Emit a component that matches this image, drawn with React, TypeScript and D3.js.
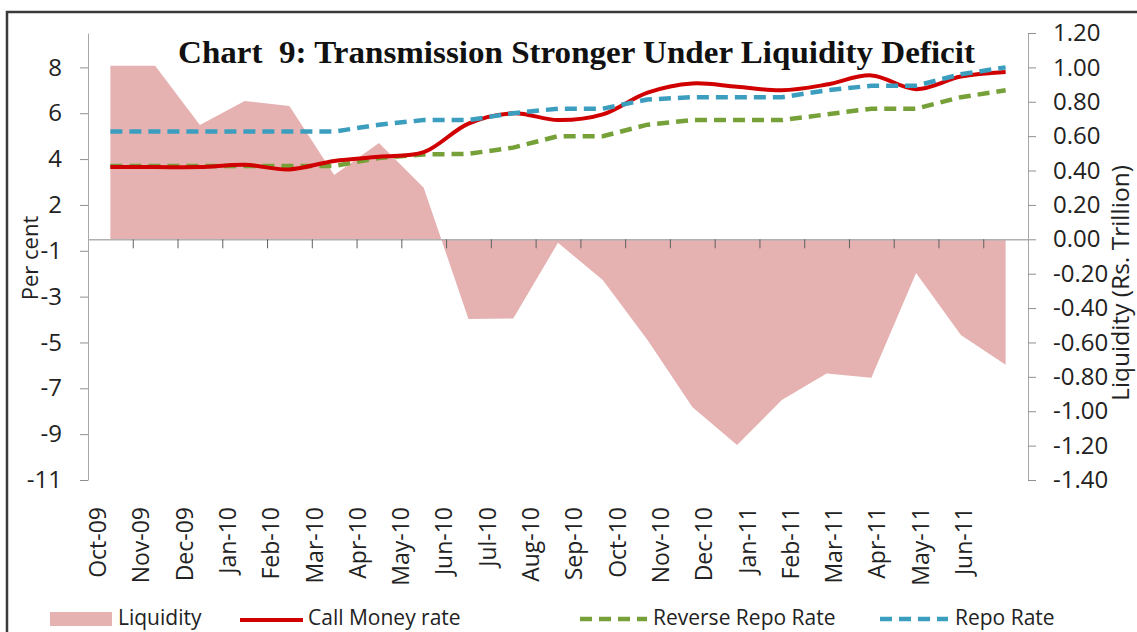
import { useEffect, useRef } from "react";
import * as d3 from "d3";

const months = [
    "Oct-09", "Nov-09", "Dec-09", "Jan-10", "Feb-10", "Mar-10", "Apr-10",
    "May-10", "Jun-10", "Jul-10", "Aug-10", "Sep-10", "Oct-10", "Nov-10",
    "Dec-10", "Jan-11", "Feb-11", "Mar-11", "Apr-11", "May-11", "Jun-11",
];

// Rs. Trillion (right axis)
const liquidity = [
    1.01, 1.01, 0.665, 0.805, 0.775, 0.374, 0.56, 0.3, -0.464, -0.46, -0.02,
    -0.237, -0.585, -0.975, -1.197, -0.935, -0.78, -0.805, -0.196, -0.557, -0.73,
];

// Per cent (left axis)
const callMoney = [
    3.15, 3.15, 3.15, 3.25, 3.05, 3.42, 3.6, 3.8, 5.05, 5.5, 5.2, 5.45, 6.4,
    6.8, 6.65, 6.5, 6.75, 7.15, 6.55, 7.1, 7.3,
];
const reverseRepo = [
    3.2, 3.2, 3.2, 3.2, 3.2, 3.2, 3.55, 3.7, 3.73, 4.0, 4.5, 4.5, 5.0, 5.2,
    5.2, 5.2, 5.45, 5.7, 5.7, 6.2, 6.5,
];
const repo = [
    4.7, 4.7, 4.7, 4.7, 4.7, 4.7, 5.0, 5.2, 5.2, 5.5, 5.7, 5.7, 6.1, 6.2, 6.2,
    6.2, 6.5, 6.7, 6.7, 7.2, 7.5,
];

const leftTicks = d3.range(-10.5, 9, 2);
const rightTicks = d3.range(-7, 7).map((i) => i * 0.2);

const FONT = "'Open Sans', sans-serif";

const App = () => {
    const chartRef = useRef<SVGSVGElement | null>(null);

    useEffect(() => {
        if (!chartRef.current) return;
        const svg = d3.select(chartRef.current);
        svg.selectAll("*").remove();

        const width = 1137;
        const height = 632;
        const plot = { left: 88, right: 1028, top: 33, bottom: 480 };

        svg.attr("width", width).attr("height", height);
        svg.append("rect").attr("width", width).attr("height", height).attr("fill", "#fff");

        // frame
        svg.append("path")
            .attr("d", `M7,${height} L7,12 L${width},12`)
            .attr("fill", "none")
            .attr("stroke", "#3a3a3a")
            .attr("stroke-width", 2.5);

        const x = d3.scaleBand().domain(months).range([plot.left, plot.right]).padding(0);
        const cx = (m: string) => x(m)! + x.bandwidth() / 2;
        const xEdge = d3.scaleLinear().domain([0, months.length]).range([plot.left, plot.right]);
        const xLabel = d3.scalePoint().domain(months).range([98, 964]);

        const yL = d3.scaleLinear().domain([-10.5, 9]).range([plot.bottom, plot.top]);
        const yR = d3.scaleLinear().domain([-1.4, 1.2]).range([plot.bottom, plot.top]);

        // Liquidity area
        const area = d3
            .area<number>()
            .x((_, i) => cx(months[i]))
            .y0(yR(0))
            .y1((d) => yR(d));
        svg.append("path").datum(liquidity).attr("d", area).attr("fill", "#E5B1B1");

        // left axis
        const gL = svg
            .append("g")
            .attr("transform", `translate(${plot.left},0)`)
            .call(
                d3.axisLeft(yL)
                    .tickValues(leftTicks)
                    .tickFormat((v) => String(Math.sign(+v) * Math.round(Math.abs(+v))))
                    .tickSize(8)
                    .tickSizeOuter(0)
                    .tickPadding(18)
            );
        gL.select(".domain").attr("stroke", "#a8a8a8");
        gL.selectAll(".tick line").attr("stroke", "#909090");
        gL.selectAll("text").attr("font-family", FONT).attr("font-size", 24).attr("fill", "#222");

        // right axis
        const gR = svg
            .append("g")
            .attr("transform", `translate(${plot.right},0)`)
            .call(
                d3.axisRight(yR)
                    .tickValues(rightTicks)
                    .tickFormat((v) => (Math.abs(+v) < 1e-9 ? 0 : +v).toFixed(2))
                    .tickSize(8)
                    .tickSizeOuter(0)
                    .tickPadding(17)
            );
        gR.select(".domain").attr("stroke", "#a8a8a8");
        gR.selectAll(".tick line").attr("stroke", "#909090");
        gR.selectAll("text").attr("font-family", FONT).attr("font-size", 24).attr("fill", "#222");

        // category axis on the zero line
        const gX = svg
            .append("g")
            .attr("transform", `translate(0,${yR(0)})`)
            .call(
                d3.axisBottom(xEdge)
                    .tickValues(d3.range(1, months.length))
                    .tickFormat(() => "")
                    .tickSize(9)
                    .tickSizeOuter(0)
            );
        gX.select(".domain").attr("stroke", "#b0b0b0").attr("stroke-width", 1.5);
        gX.selectAll(".tick line").attr("stroke", "#606060");

        svg.append("g")
            .selectAll("text")
            .data(months)
            .enter()
            .append("text")
            .attr("transform", (d) => `translate(${xLabel(d)! + 8},507) rotate(-90)`)
            .attr("text-anchor", "end")
            .attr("font-family", FONT)
            .attr("font-size", 23)
            .attr("fill", "#222")
            .text((d) => d);

        // rate lines
        const lineL = (curve: d3.CurveFactory) =>
            d3
                .line<number>()
                .x((_, i) => cx(months[i]))
                .y((d) => yL(d))
                .curve(curve);

        svg.append("path")
            .datum(reverseRepo)
            .attr("d", lineL(d3.curveLinear))
            .attr("fill", "none")
            .attr("stroke", "#76A038")
            .attr("stroke-width", 4.5)
            .attr("stroke-dasharray", "12,7");

        svg.append("path")
            .datum(callMoney)
            .attr("d", lineL(d3.curveCatmullRom.alpha(0.5)))
            .attr("fill", "none")
            .attr("stroke", "#D00000")
            .attr("stroke-width", 4);

        svg.append("path")
            .datum(repo)
            .attr("d", lineL(d3.curveLinear))
            .attr("fill", "none")
            .attr("stroke", "#3B9EBF")
            .attr("stroke-width", 4.5)
            .attr("stroke-dasharray", "12,7");

        // title
        svg.append("text")
            .attr("x", 178)
            .attr("y", 63)
            .attr("font-family", "'Liberation Serif', serif")
            .attr("font-weight", "bold")
            .attr("font-size", 31)
            .attr("fill", "#111")
            .attr("textLength", 797)
            .attr("lengthAdjust", "spacingAndGlyphs")
            .style("white-space", "pre")
            .text("Chart  9: Transmission Stronger Under Liquidity Deficit");

        // axis titles
        svg.append("text")
            .attr("transform", "translate(38,258) rotate(-90)")
            .attr("text-anchor", "middle")
            .attr("font-family", FONT)
            .attr("font-size", 22)
            .attr("fill", "#222")
            .text("Per cent");

        svg.append("text")
            .attr("transform", "translate(1129,283) rotate(-90)")
            .attr("text-anchor", "middle")
            .attr("font-family", FONT)
            .attr("font-size", 24.5)
            .attr("fill", "#222")
            .text("Liquidity (Rs. Trillion)");

        // legend
        const legendY = 618;
        const leg = svg.append("g").attr("font-family", FONT).attr("font-size", 21).attr("fill", "#222");
        leg.append("rect").attr("x", 50).attr("y", legendY - 6).attr("width", 62).attr("height", 14).attr("fill", "#E5B1B1");
        leg.append("text").attr("x", 118).attr("y", legendY).attr("dy", "0.35em").text("Liquidity");

        leg.append("line").attr("x1", 240).attr("x2", 303).attr("y1", legendY + 2).attr("y2", legendY + 2)
            .attr("stroke", "#D00000").attr("stroke-width", 4);
        leg.append("text").attr("x", 308).attr("y", legendY).attr("dy", "0.35em").text("Call Money rate");

        leg.append("line").attr("x1", 580).attr("x2", 647).attr("y1", legendY + 1).attr("y2", legendY + 1)
            .attr("stroke", "#76A038").attr("stroke-width", 4.5).attr("stroke-dasharray", "12,7");
        leg.append("text").attr("x", 653).attr("y", legendY).attr("dy", "0.35em").text("Reverse Repo Rate");

        leg.append("line").attr("x1", 880).attr("x2", 948).attr("y1", legendY + 1).attr("y2", legendY + 1)
            .attr("stroke", "#3B9EBF").attr("stroke-width", 4.5).attr("stroke-dasharray", "12,7");
        leg.append("text").attr("x", 955).attr("y", legendY).attr("dy", "0.35em").text("Repo Rate");
    }, []);

    return (
        <svg ref={chartRef} style={{ position: "absolute", left: 0, top: 0, display: "block" }}></svg>
    );
};

export default App;
